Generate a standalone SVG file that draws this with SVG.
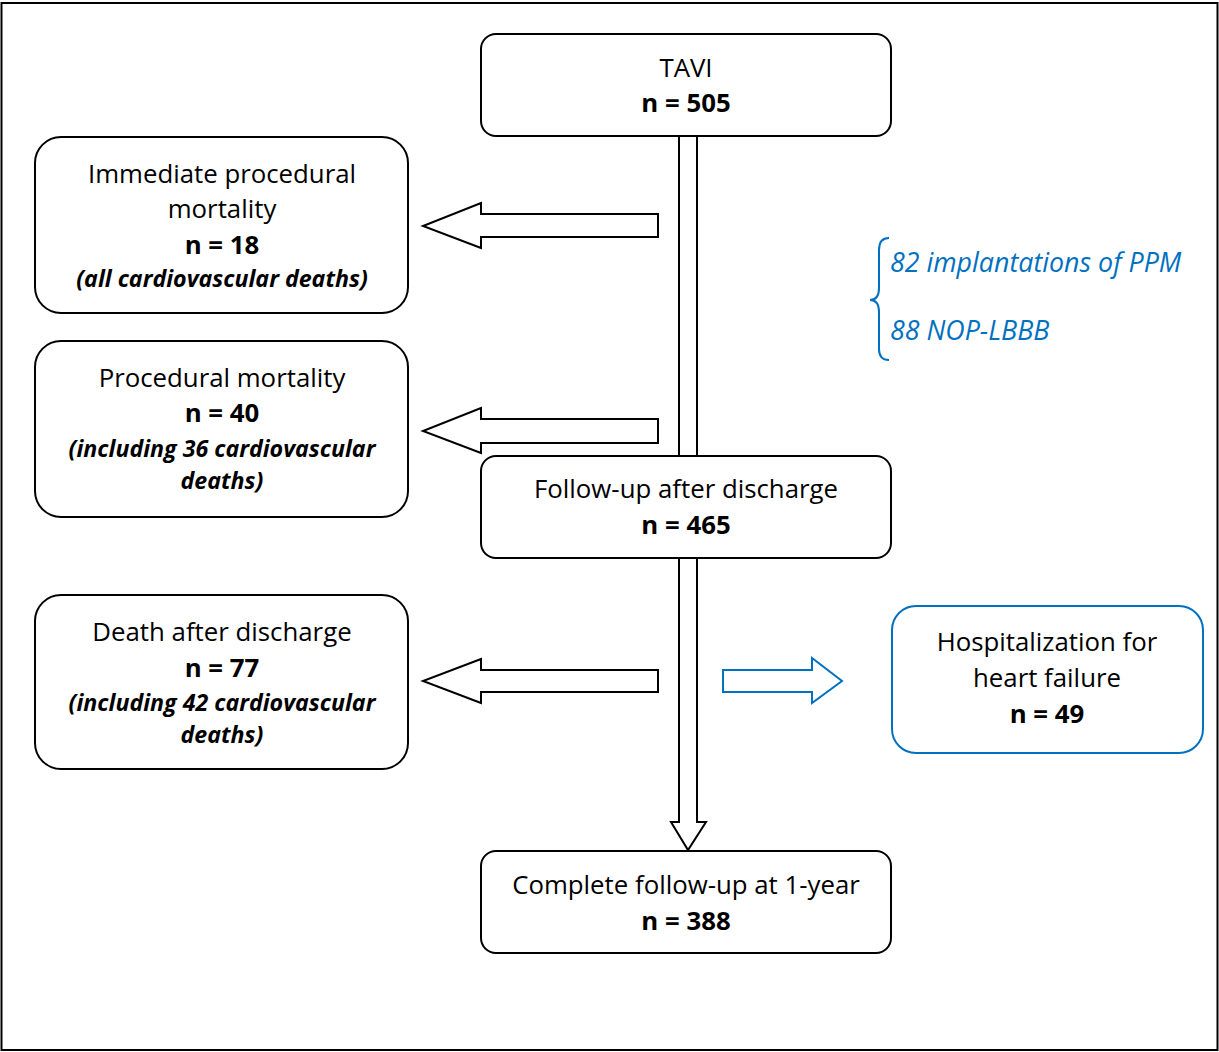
<svg xmlns="http://www.w3.org/2000/svg" width="1219" height="1052" viewBox="0 0 1219 1052">
<style>
.box{fill:#fff;stroke:#000;stroke-width:2}
.bbox{fill:#fff;stroke:#0070c0;stroke-width:2}
.arr{fill:#fff;stroke:#000;stroke-width:2;stroke-linejoin:miter}
.barr{fill:#fff;stroke:#0070c0;stroke-width:2}
text{font-family:"Open Sans","Liberation Sans",sans-serif;font-size:25.8px;text-anchor:middle;fill:#000}
.b{font-weight:bold}
.bi{font-weight:bold;font-style:italic;font-size:23.2px}
.note{fill:#0070c0;font-style:italic;text-anchor:start;font-size:26.8px}
</style>
<rect x="1.5" y="3" width="1216" height="1047" fill="#fff" stroke="#000" stroke-width="2"/>
<g id="connectors">
<path class="arr" d="M679 136 V456 M697 136 V456"/>
<path class="arr" d="M658 214 V237 H481 V248 L423 226 L481 203 V214 Z"/>
<path class="arr" d="M658 419 V443 H481 V453 L423 431 L481 408 V419 Z"/>
<path class="arr" d="M658 670 V692 H481 V703 L423 681 L481 659 V670 Z"/>
<path class="barr" d="M723 670 V692 H812 V703 L842 681 L812 658 V670 Z"/>
<path class="arr" d="M679 558 V822 H671 L688 850 L706 822 H697 V558"/>
<path fill="none" stroke="#0070c0" stroke-width="2" d="M889 238 Q879 238 879 250 V288 Q879 300 870 300 Q879 300 879 312 V349 Q879 360 889 360"/>
</g>
<g id="tavi">
<rect class="box" x="481" y="34" width="410" height="102" rx="15"/>
<text x="686" y="77">TAVI</text>
<text class="b" x="686" y="112">n = 505</text>
</g>
<g id="immediate">
<rect class="box" x="35" y="137" width="373" height="176" rx="26"/>
<text x="222" y="183">Immediate procedural</text>
<text x="222" y="218">mortality</text>
<text class="b" x="222" y="254">n = 18</text>
<text class="bi" x="222" y="287">(all cardiovascular deaths)</text>
</g>
<g id="procedural">
<rect class="box" x="35" y="341" width="373" height="176" rx="26"/>
<text x="222" y="387">Procedural mortality</text>
<text class="b" x="222" y="422">n = 40</text>
<text class="bi" x="222" y="457">(including 36 cardiovascular</text>
<text class="bi" x="222" y="489">deaths)</text>
</g>
<g id="followup">
<rect class="box" x="481" y="456" width="410" height="102" rx="15"/>
<text x="686" y="498">Follow-up after discharge</text>
<text class="b" x="686" y="534">n = 465</text>
</g>
<g id="death">
<rect class="box" x="35" y="595" width="373" height="174" rx="26"/>
<text x="222" y="641">Death after discharge</text>
<text class="b" x="222" y="677">n = 77</text>
<text class="bi" x="222" y="711">(including 42 cardiovascular</text>
<text class="bi" x="222" y="743">deaths)</text>
</g>
<g id="hospitalization">
<rect class="bbox" x="892" y="606" width="311" height="147" rx="24"/>
<text x="1047" y="651">Hospitalization for</text>
<text x="1047" y="687">heart failure</text>
<text class="b" x="1047" y="723">n = 49</text>
</g>
<g id="complete">
<rect class="box" x="481" y="851" width="410" height="102" rx="15"/>
<text x="686" y="894">Complete follow-up at 1-year</text>
<text class="b" x="686" y="930">n = 388</text>
</g>
<g id="notes">
<text class="note" x="890" y="272">82 implantations of PPM</text>
<text class="note" x="890" y="340">88 NOP-LBBB</text>
</g>
</svg>
